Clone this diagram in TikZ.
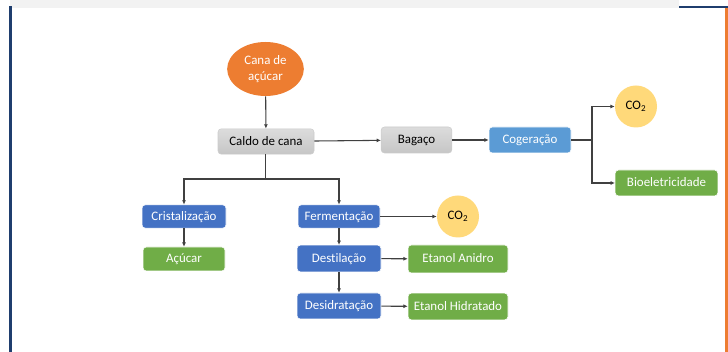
\documentclass[tikz,border=0pt]{standalone}
\usepackage{fontspec}
\setmainfont{Carlito}[Ligatures={NoCommon}]
\usetikzlibrary{arrows.meta,positioning,shapes.geometric}
\definecolor{cOrange}{HTML}{ED7D31}
\definecolor{cBlue}{HTML}{4472C4}
\definecolor{cLBlue}{HTML}{5B9BD5}
\definecolor{cGreen}{HTML}{70AD47}
\definecolor{cYellow}{HTML}{FFD97A}
\definecolor{cLine}{HTML}{404040}
\definecolor{cFrame}{HTML}{1F3E6E}
\definecolor{cBar}{HTML}{F2F2F2}
\definecolor{cGrayT}{HTML}{DCDCDC}
\definecolor{cGrayB}{HTML}{C6C6C6}
\tikzset{
  x=0.75pt, y=-0.75pt,
  box/.style={rectangle, rounded corners=2.5pt, inner sep=0pt, text height=6.6pt, text depth=0.8pt, font=\fontsize{9.7}{11}\selectfont, text=white, draw=white, line width=0.4pt},
  graybox/.style={box, top color=cGrayT, bottom color=cGrayB, draw=gray!40, text=black},
  bluebox/.style={box, fill=cBlue},
  lbluebox/.style={box, fill=cLBlue},
  greenbox/.style={box, fill=cGreen},
  co2/.style={circle, fill=cYellow, inner sep=0pt, minimum size=31.5pt, font=\fontsize{9.7}{11}\selectfont, text=black},
  conn/.style={draw=cLine, line width=0.8pt, -{Latex[length=3.2pt,width=3pt]}},
  plain/.style={draw=cLine, line width=0.8pt},
}
\begin{document}
\begin{tikzpicture}
\useasboundingbox (0,0) rectangle (728,352);
\fill[white] (0,0) rectangle (728,352);
% frame
\fill[cBar] (10,0) rectangle (679,8.5);
\fill[cFrame] (9,6) rectangle (11.5,352);
\fill[cFrame] (679,6) rectangle (728,8.5);
\fill[cOrange] (725,8.5) rectangle (728,352);
% nodes
\node[ellipse, fill=cOrange, minimum width=57.5pt, minimum height=40.5pt, inner sep=0pt, text=white, align=center, font=\fontsize{9.7}{12}\selectfont] (cana) at (265.5,69) {Cana de\\açúcar};
\node[graybox, minimum width=72pt, minimum height=19pt] (caldo) at (266,141.5) {Caldo de cana};
\node[graybox, minimum width=53pt, minimum height=19.5pt] (bagaco) at (416.5,140) {Bagaço};
\node[lbluebox, minimum width=61.5pt, minimum height=19.5pt] (cog) at (530,140) {Cogeração};
\node[co2] (co2a) at (636,106.5) {CO\textsubscript{2}};
\node[greenbox, minimum width=77pt, minimum height=19.5pt] (bio) at (666.5,183) {Bioeletricidade};
\node[bluebox, minimum width=63pt, minimum height=17.5pt] (crist) at (184,216.5) {Cristalização};
\node[greenbox, minimum width=61.5pt, minimum height=18pt] (acucar) at (184,259) {Açúcar};
\node[bluebox, minimum width=61.5pt, minimum height=17.5pt] (ferm) at (339,216.5) {Fermentação};
\node[co2] (co2b) at (458,216.5) {CO\textsubscript{2}};
\node[bluebox, minimum width=63pt, minimum height=20pt] (dest) at (339,258.5) {Destilação};
\node[greenbox, minimum width=75pt, minimum height=21pt] (anidro) at (458,259) {Etanol Anidro};
\node[bluebox, minimum width=63pt, minimum height=19.5pt] (desid) at (339,306) {Desidratação};
\node[greenbox, minimum width=75pt, minimum height=20pt] (hidr) at (458,306.5) {Etanol Hidratado};
% connectors
\coordinate (split) at (265.7,179);
\coordinate (split2) at (592,140);
\draw[conn] (cana) -- (caldo);
\draw[plain] (caldo.south -| split) -- (split);
\draw[conn] (split) -| (crist.north);
\draw[conn] (split) -| (ferm.north);
\draw[conn] (caldo) -- (bagaco);
\draw[conn] (bagaco) -- (cog);
\draw[plain] (cog.east) -- (split2);
\draw[conn] (split2) |- (co2a.west);
\draw[conn] (split2) |- (bio.west);
\draw[conn] (crist) -- (acucar);
\draw[conn] (ferm) -- (co2b);
\draw[conn] (ferm) -- (dest);
\draw[conn] (dest) -- (anidro);
\draw[conn] (dest) -- (desid);
\draw[conn] (desid) -- (hidr);
\end{tikzpicture}
\end{document}
